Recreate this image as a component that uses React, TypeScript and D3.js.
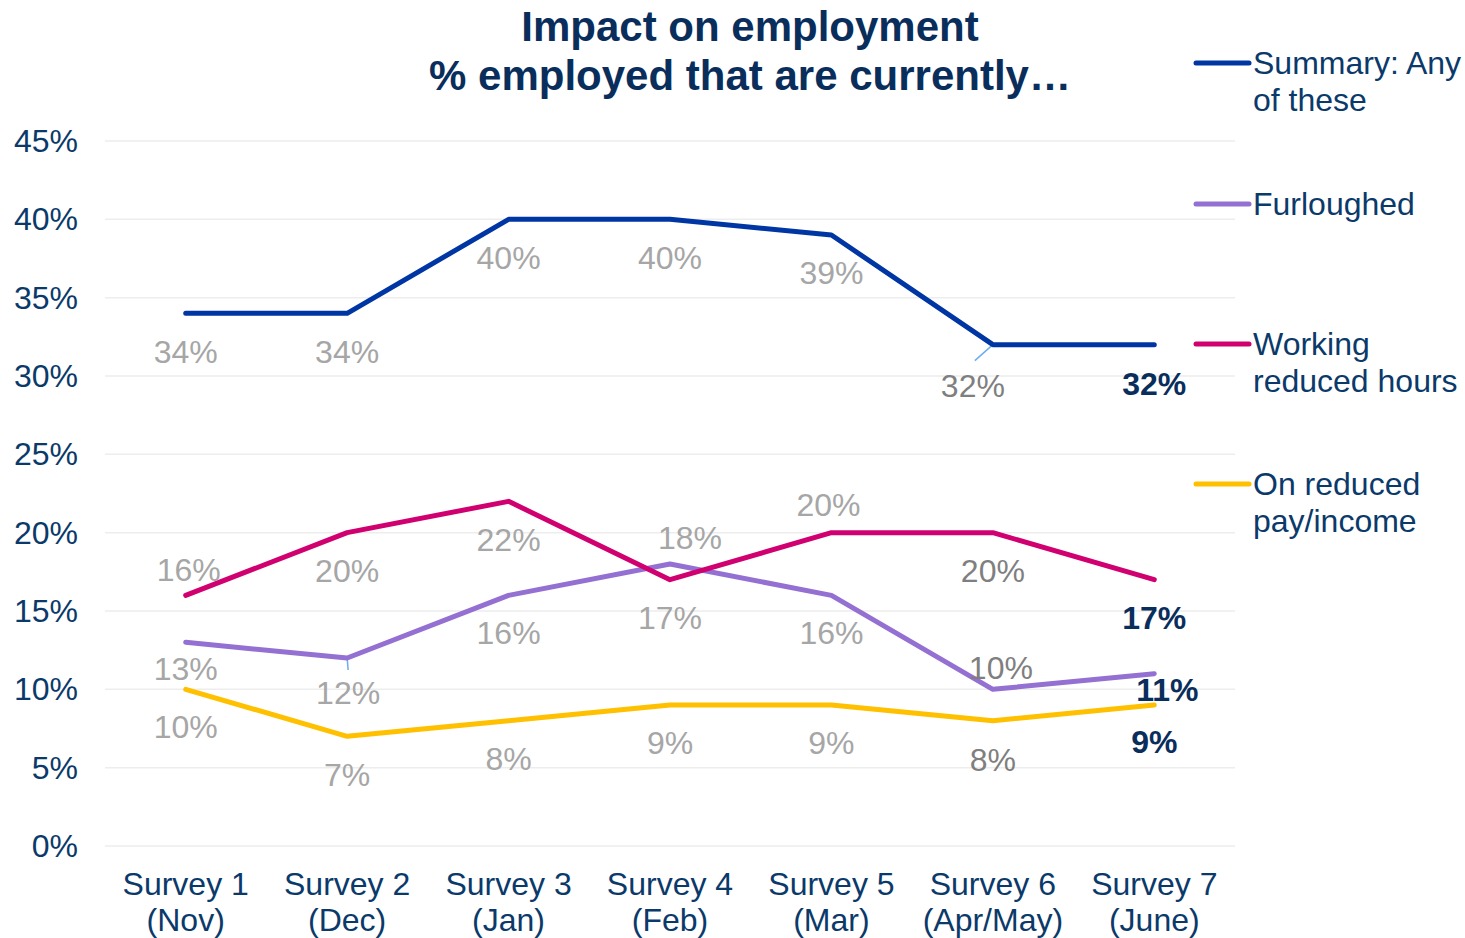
import React from "react";
import * as d3 from "d3";

const categories = ["Survey 1|(Nov)", "Survey 2|(Dec)", "Survey 3|(Jan)", "Survey 4|(Feb)", "Survey 5|(Mar)", "Survey 6|(Apr/May)", "Survey 7|(June)"];
const summaryValues = [34, 34, 40, 40, 39, 32, 32];
const furloughedValues = [13, 12, 16, 18, 16, 10, 11];
const reducedHoursValues = [16, 20, 22, 17, 20, 20, 17];
const reducedPayValues = [10, 7, 8, 9, 9, 8, 9];
const yTicks = [0, 5, 10, 15, 20, 25, 30, 35, 40, 45];

const seriesNames = ["Summary: Any|of these", "Furloughed", "Working|reduced hours", "On reduced|pay/income"];
const seriesColors = ["#0036A3", "#9370D2", "#D10070", "#FFC000"];

// label offsets [dx, dy] relative to the data point
const summaryOffsets = [[0, 39], [0, 39], [0, 39], [0, 39], [0, 38], [-20, 41], [0, 39]];
const furloughedOffsets = [[0, 27], [1, 35], [0, 38], [20, -26], [0, 38], [8, -21], [13, 16]];
const reducedHoursOffsets = [[3, -25], [0, 38], [0, 39], [0, 38], [-3, -28], [0, 38], [0, 38]];
const reducedPayOffsets = [[0, 38], [0, 39], [0, 38], [0, 38], [0, 38], [0, 39], [0, 37]];

const W = 1465, H = 938;
const navy = "#0B3A6A";
const font = "Arial, 'Liberation Sans', sans-serif";
const fs = 32;

export default function App() {
  const x = d3.scaleBand().domain(categories).range([105, 1235]);
  const y = d3.scaleLinear().domain([0, 45]).range([846, 141]);
  const cx = (c: string) => (x(c) as number) + x.bandwidth() / 2;

  const line = d3.line<number>().x((_, i) => cx(categories[i])).y((v) => y(v));

  const allSeries = [
    { values: summaryValues, offsets: summaryOffsets },
    { values: furloughedValues, offsets: furloughedOffsets },
    { values: reducedHoursValues, offsets: reducedHoursOffsets },
    { values: reducedPayValues, offsets: reducedPayOffsets },
  ];
  const drawOrder = [3, 1, 2, 0];
  const legendY = [63, 204, 344, 484];

  return (
    <svg width={W} height={H} style={{ position: "absolute", left: 0, top: 0, background: "#fff" }} fontFamily={font}>
      <rect width={W} height={H} fill="#fff" />
      <text x={750} y={26} textAnchor="middle" dominantBaseline="central" fontSize={42} fontWeight="bold" fill="#0A2E5C">Impact on employment</text>
      <text x={750} y={75} textAnchor="middle" dominantBaseline="central" fontSize={42} fontWeight="bold" fill="#0A2E5C">% employed that are currently…</text>

      {yTicks.map((t) => (
        <g key={t}>
          <line x1={105} x2={1235} y1={y(t)} y2={y(t)} stroke="#EDEDED" strokeWidth={1.5} />
          <text x={78} y={y(t)} textAnchor="end" dominantBaseline="central" fontSize={fs} fill={navy}>{t}%</text>
        </g>
      ))}

      {categories.map((c) => {
        const [a, b] = c.split("|");
        return (
          <g key={c}>
            <text x={cx(c)} y={884} textAnchor="middle" dominantBaseline="central" fontSize={fs} fill={navy}>{a}</text>
            <text x={cx(c)} y={920} textAnchor="middle" dominantBaseline="central" fontSize={fs} fill={navy}>{b}</text>
          </g>
        );
      })}

      <line x1={cx(categories[5])} y1={y(summaryValues[5])} x2={cx(categories[5]) - 18} y2={y(summaryValues[5]) + 16} stroke="#6AAEF0" strokeWidth={1.5} />
      <line x1={cx(categories[1])} y1={y(furloughedValues[1])} x2={cx(categories[1]) + 1} y2={y(furloughedValues[1]) + 12} stroke="#6AAEF0" strokeWidth={1.5} />

      {drawOrder.map((si) => (
        <path key={si} d={line(allSeries[si].values) as string} fill="none" stroke={seriesColors[si]} strokeWidth={5} strokeLinejoin="round" strokeLinecap="round" />
      ))}

      {allSeries.map((s, si) =>
        s.values.map((v, i) => {
          const last = i === categories.length - 1;
          const fill = last ? "#0A2E5C" : i === 5 ? "#7F7F7F" : "#A6A6A6";
          return (
            <text key={`${si}-${i}`} x={cx(categories[i]) + s.offsets[i][0]} y={y(v) + s.offsets[i][1]} textAnchor="middle" dominantBaseline="central" fontSize={fs} fontWeight={last ? "bold" : "normal"} fill={fill}>{v}%</text>
          );
        })
      )}

      {seriesNames.map((n, i) => {
        const parts = n.split("|");
        return (
          <g key={n}>
            <line x1={1196} x2={1249} y1={legendY[i]} y2={legendY[i]} stroke={seriesColors[i]} strokeWidth={5} strokeLinecap="round" />
            {parts.map((p, j) => (
              <text key={j} x={1253} y={legendY[i] + j * 37} dominantBaseline="central" fontSize={fs} fill={navy}>{p}</text>
            ))}
          </g>
        );
      })}
    </svg>
  );
}
